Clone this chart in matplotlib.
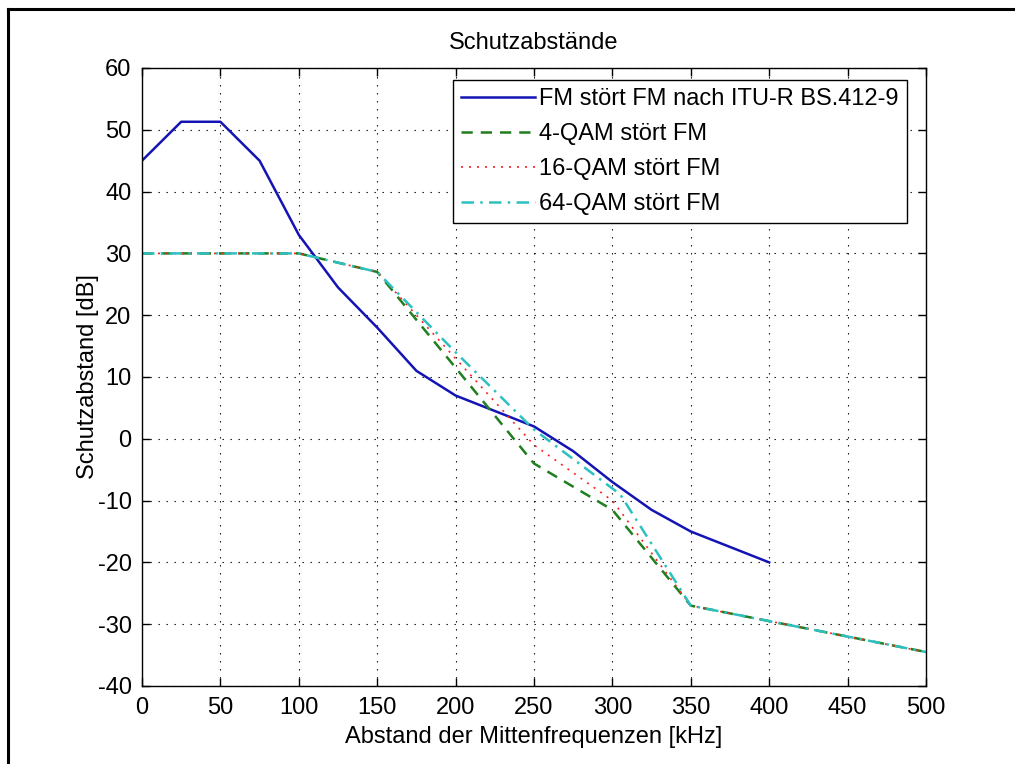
import numpy as np
import matplotlib.pyplot as plt
from matplotlib.lines import Line2D

plt.rcParams['font.family'] = ['Liberation Sans', 'DejaVu Sans']
plt.rcParams['axes.unicode_minus'] = False

# FM stoert FM (ITU-R BS.412-9)
f_fm = [0, 25, 50, 75, 100, 125, 150, 175, 200, 225, 250, 275, 300, 325, 350, 375, 400]
fm = [45, 51.3, 51.3, 45, 33, 24.5, 18, 11, 7, 4.5, 2, -2, -7, -11.5, -15, -17.5, -20]

# QAM stoert FM
f_qam4 = [0, 100, 125, 150, 250, 300, 350, 400, 450, 500]
qam4 = [30, 30, 28.5, 27, -4, -11.5, -27, -29.5, -32, -34.5]

f_qam16 = [0, 100, 125, 150, 250, 300, 350, 400, 450, 500]
qam16 = [30, 30, 28.5, 27, -1, -10, -27, -29.5, -32, -34.5]

f_qam64 = [0, 100, 125, 150, 200, 250, 305, 350, 400, 450, 500]
qam64 = [30, 30, 28.5, 27, 14, 1.5, -9, -27, -29.5, -32, -34.5]

labels = ['FM stört FM nach ITU-R BS.412-9', '4-QAM stört FM',
          '16-QAM stört FM', '64-QAM stört FM']

fs = 17

fig = plt.figure(figsize=(10.15, 7.64), dpi=100)
ax = fig.add_axes([0.1399, 0.1021, 0.7724, 0.8089])

ax.plot(f_fm, fm, color='#1414b4', lw=1.8, label=labels[0])
ax.plot(f_qam4, qam4, color='#1f7f1f', lw=1.8, linestyle=(0, (4.5, 3.2)), label=labels[1])
ax.plot(f_qam16, qam16, color='#ff2020', lw=1.2, linestyle=(0, (1.2, 3.6)), label=labels[2])
ax.plot(f_qam64, qam64, color='#2ec0c0', lw=1.8, linestyle=(0, (5, 2.5, 1, 2.5)), label=labels[3])

ax.set_xlim(0, 500)
ax.set_ylim(-40, 60)
ax.set_xticks(np.arange(0, 501, 50))
ax.set_yticks(np.arange(-40, 61, 10))
ax.grid(True, color='black', lw=0.8, linestyle=(0, (1.2, 6)))
ax.tick_params(direction='in', length=6, width=1, top=True, right=True,
               labelsize=fs)
ax.tick_params(axis='x', pad=8)
ax.tick_params(axis='y', pad=7.5)
for s in ax.spines.values():
    s.set_linewidth(1.0)

ax.set_title('Schutzabstände', fontsize=fs, pad=14)
ax.set_xlabel('Abstand der Mittenfrequenzen [kHz]', fontsize=fs, labelpad=5)
ax.set_ylabel('Schutzabstand [dB]', fontsize=fs, labelpad=-1.3)

leg = ax.legend(loc='upper right', bbox_to_anchor=(0.976, 0.981), borderaxespad=0,
                fontsize=fs, fancybox=False, framealpha=1, edgecolor='black',
                handlelength=3.1, handletextpad=0.2, labelspacing=0.55,
                borderpad=0.35)
leg.get_frame().set_linewidth(1.0)

# Rahmen links und oben (Screenshot)
fig.add_artist(Line2D([8 / 1015, 8 / 1015], [0, 1 - 9 / 764], color='black', lw=2.2))
fig.add_artist(Line2D([8 / 1015, 1], [1 - 9 / 764, 1 - 9 / 764], color='black', lw=2.2))

fig.savefig('out.png', dpi=100)
